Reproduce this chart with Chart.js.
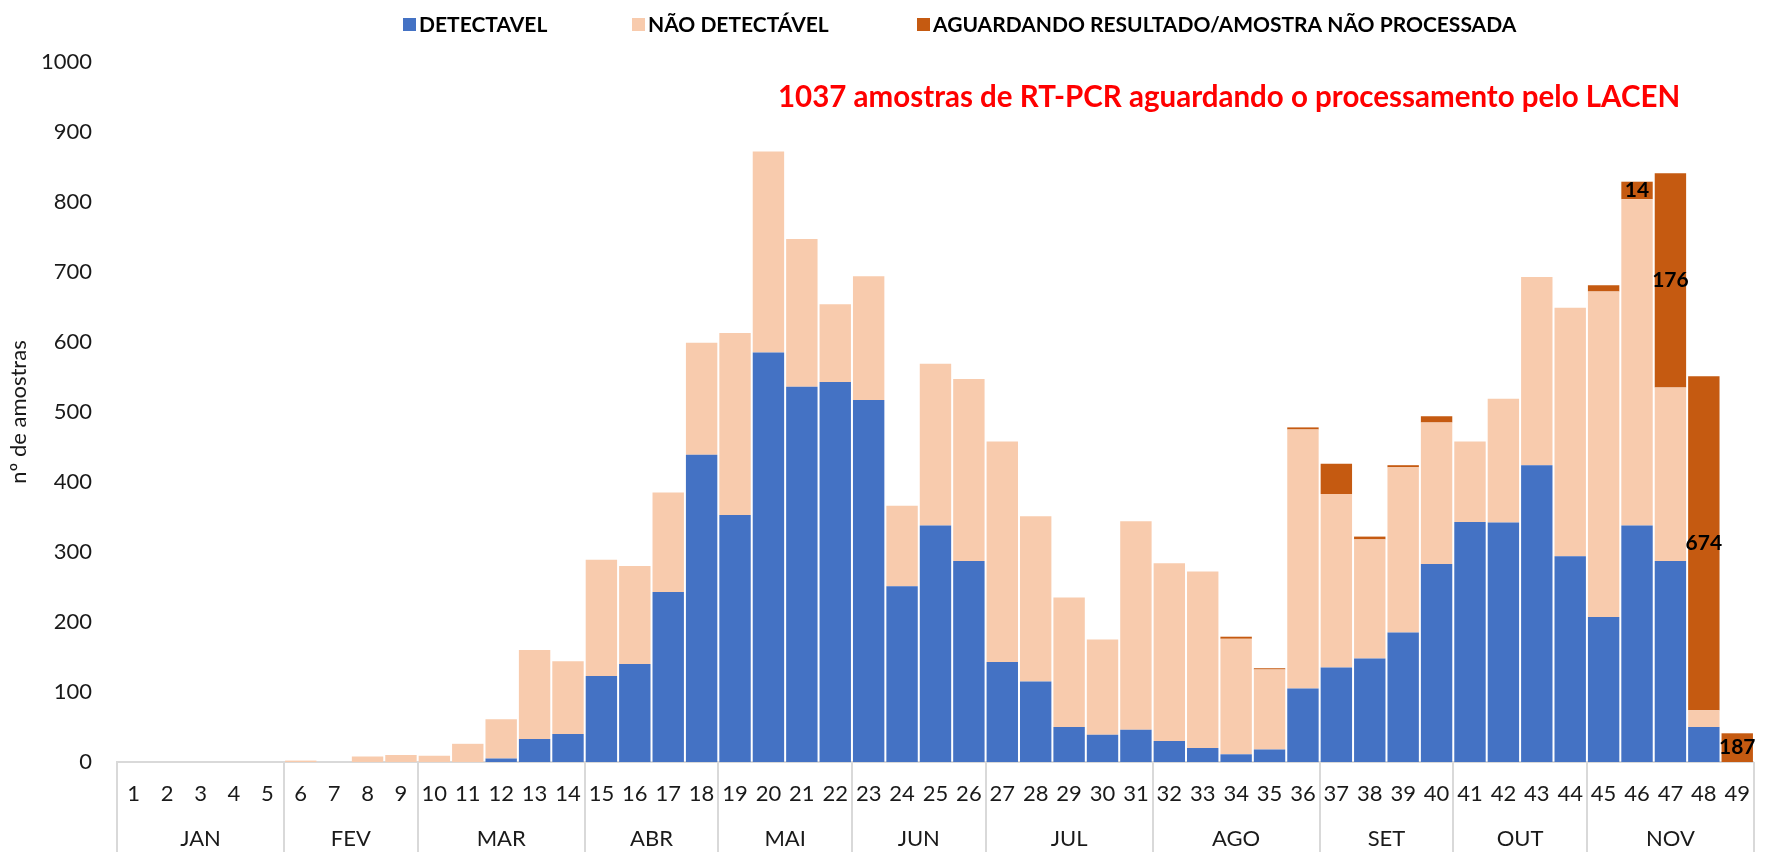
<!DOCTYPE html>
<html>
<head>
<meta charset="utf-8">
<script src="https://cdn.jsdelivr.net/npm/chart.js@4/dist/chart.umd.min.js"></script>
<style>
  body { margin: 0; background: #fff; }
  #wrap { width: 1769px; height: 852px; }
</style>
</head>
<body>
<div id="wrap"><canvas id="amostrasChart"></canvas></div>
<script>
const weeks = ['1','2','3','4','5','6','7','8','9','10','11','12','13','14','15','16','17','18','19','20',
  '21','22','23','24','25','26','27','28','29','30','31','32','33','34','35','36','37','38','39','40',
  '41','42','43','44','45','46','47','48','49'];
const months = ['JAN','FEV','MAR','ABR','MAI','JUN','JUL','AGO','SET','OUT','NOV'];
const weeksPerMonth = [5, 4, 5, 4, 4, 4, 5, 5, 4, 4, 5];

const detectavel = [0,0,0,0,0,0,0,0,0,0,0,5,33,40,123,140,243,439,353,585,
  536,543,517,251,338,287,143,115,50,39,46,30,20,11,18,105,135,148,185,283,
  343,342,424,294,207,338,287,50,0];
const naoDetectavel = [0,0,0,0,0,2,0,8,10,9,26,56,127,104,166,140,142,160,260,287,
  211,111,177,115,231,260,315,236,185,136,298,254,252,165,114,370,248,170,236,202,
  115,177,269,355,465,466,248,24,0];
const aguardando = [0,0,0,0,0,0,0,0,0,0,0,0,0,0,0,0,0,0,0,0,
  0,0,0,0,0,0,0,0,0,0,0,0,0,3,2,3,43,4,3,9,
  0,0,0,0,9,25,306,477,41];
// numbers written on the orange bars
const aguardandoLabels = {45: '14', 46: '176', 47: '674', 48: '187'};

const seriesNames = ['DETECTAVEL', 'NÃO DETECTÁVEL', 'AGUARDANDO RESULTADO/AMOSTRA NÃO PROCESSADA'];
const seriesColors = ['#4472C4', '#F8CBAD', '#C55A11'];
const noteText = '1037 amostras de RT-PCR aguardando o processamento pelo LACEN';

const FONT = 'Lato, "Open Sans", sans-serif';

// legend drawn by hand so it sits where the original one is
const legendPlugin = {
  id: 'customLegend',
  afterDraw(chart) {
    const ctx = chart.ctx;
    const boxX = [403, 632, 917];
    ctx.save();
    ctx.font = 'bold 21px ' + FONT;
    ctx.textBaseline = 'middle';
    ctx.textAlign = 'left';
    seriesNames.forEach(function(name, i) {
      ctx.fillStyle = seriesColors[i];
      ctx.fillRect(boxX[i], 18, 13, 13);
      ctx.fillStyle = '#000';
      ctx.fillText(name, boxX[i] + 16, 25);
    });
    ctx.restore();
  }
};

const notePlugin = {
  id: 'note',
  afterDraw(chart) {
    const ctx = chart.ctx;
    ctx.save();
    ctx.font = 'bold 29.5px ' + FONT;
    ctx.fillStyle = '#FF0000';
    ctx.textAlign = 'left';
    ctx.textBaseline = 'middle';
    ctx.fillText(noteText, 778, 97);
    ctx.restore();
  }
};

// second row of the category axis: months and their separators
const monthAxisPlugin = {
  id: 'monthAxis',
  afterDraw(chart) {
    const ctx = chart.ctx;
    const xs = chart.scales.x;
    const half = (xs.getPixelForValue(1) - xs.getPixelForValue(0)) / 2;
    const top = chart.chartArea.bottom;
    ctx.save();
    ctx.strokeStyle = '#d9d9d9';
    ctx.lineWidth = 2;
    ctx.font = '22px ' + FONT;
    ctx.fillStyle = '#1a1a1a';
    ctx.textAlign = 'center';
    ctx.textBaseline = 'middle';
    let start = 0;
    const edges = [xs.getPixelForValue(0) - half];
    weeksPerMonth.forEach(function(n, i) {
      const end = start + n - 1;
      const left = xs.getPixelForValue(start) - half;
      const right = xs.getPixelForValue(end) + half;
      edges.push(right);
      ctx.fillText(months[i], (left + right) / 2, 839);
      start += n;
    });
    edges.forEach(function(x) {
      ctx.beginPath();
      ctx.moveTo(Math.round(x), top);
      ctx.lineTo(Math.round(x), chart.height);
      ctx.stroke();
    });
    ctx.restore();
  }
};

const barLabelPlugin = {
  id: 'barLabels',
  afterDatasetsDraw(chart) {
    const ctx = chart.ctx;
    const meta = chart.getDatasetMeta(2);
    ctx.save();
    ctx.font = 'bold 21px ' + FONT;
    ctx.fillStyle = '#000';
    ctx.textAlign = 'center';
    ctx.textBaseline = 'middle';
    Object.keys(aguardandoLabels).forEach(function(k) {
      const bar = meta.data[k];
      ctx.fillText(aguardandoLabels[k], bar.x, (bar.y + bar.base) / 2);
    });
    ctx.restore();
  }
};

const ctx = document.getElementById('amostrasChart').getContext('2d');

new Chart(ctx, {
  type: 'bar',
  data: {
    labels: weeks,
    datasets: [
      { label: seriesNames[0], data: detectavel, backgroundColor: seriesColors[0] },
      { label: seriesNames[1], data: naoDetectavel, backgroundColor: seriesColors[1] },
      { label: seriesNames[2], data: aguardando, backgroundColor: seriesColors[2] }
    ]
  },
  options: {
    responsive: true,
    maintainAspectRatio: false,
    animation: false,
    layout: { padding: { top: 62, left: 0, right: 0, bottom: 0 } },
    datasets: {
      bar: { categoryPercentage: 0.94, barPercentage: 1, borderWidth: 0 }
    },
    plugins: {
      legend: { display: false },
      tooltip: { enabled: false }
    },
    scales: {
      x: {
        stacked: true,
        grid: { display: false, drawTicks: false },
        border: { display: true, color: '#d9d9d9', width: 2 },
        ticks: {
          autoSkip: false,
          maxRotation: 0,
          padding: 19,
          color: '#1a1a1a',
          font: { family: FONT, size: 22 }
        },
        afterFit: function(axis) { axis.height = 90; }
      },
      y: {
        stacked: true,
        min: 0,
        max: 1000,
        grid: { display: false, drawTicks: false },
        border: { display: false },
        ticks: {
          stepSize: 100,
          padding: 25,
          color: '#1a1a1a',
          font: { family: FONT, size: 22 },
          callback: function(v) { return String(v); }
        },
        title: {
          display: true,
          text: 'nº de amostras',
          color: '#1a1a1a',
          padding: { top: 6, bottom: 0 },
          font: { family: FONT, size: 22 }
        },
        afterFit: function(axis) { axis.width = 117; }
      }
    }
  },
  plugins: [legendPlugin, notePlugin, monthAxisPlugin, barLabelPlugin]
});
</script>
</body>
</html>
